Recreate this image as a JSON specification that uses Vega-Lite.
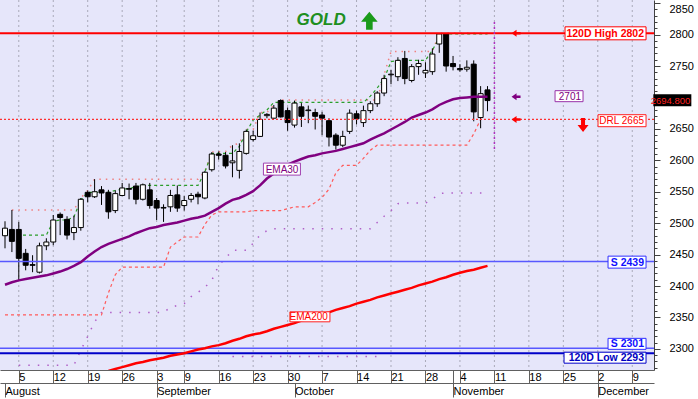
{
"$schema":"https://vega.github.io/schema/vega-lite/v6.json",
"width":654,"height":370,"autosize":{"type":"none"},"padding":{"left":0,"top":0,"right":44,"bottom":29},"background":"white",
"config":{"view":{"stroke":null,"fill":"#E6E6FA"},"font":"Liberation Sans","axis":{"labelFont":"Liberation Sans"}},
"datasets":{
"bars":[{"i":-2,"o":2480,"h":2503,"l":2460,"c":2492},{"i":-1,"o":2490,"h":2521,"l":2454,"c":2471},{"i":0,"o":2490,"h":2502,"l":2409,"c":2444},{"i":1,"o":2452,"h":2459,"l":2425,"c":2433},{"i":2,"o":2434,"h":2449,"l":2422,"c":2433},{"i":3,"o":2422,"h":2469,"l":2420,"c":2464},{"i":4,"o":2464,"h":2476,"l":2457,"c":2470},{"i":5,"o":2470,"h":2513,"l":2465,"c":2505},{"i":6,"o":2514,"h":2517,"l":2481,"c":2509},{"i":7,"o":2506,"h":2511,"l":2474,"c":2481},{"i":8,"o":2485,"h":2512,"l":2473,"c":2493},{"i":9,"o":2493,"h":2540,"l":2488,"c":2538},{"i":10,"o":2549,"h":2552,"l":2533,"c":2542},{"i":11,"o":2542,"h":2570,"l":2540,"c":2550},{"i":12,"o":2553,"h":2559,"l":2529,"c":2548},{"i":13,"o":2549,"h":2553,"l":2507,"c":2518},{"i":14,"o":2520,"h":2552,"l":2516,"c":2547},{"i":15,"o":2544,"h":2564,"l":2543,"c":2556},{"i":16,"o":2555,"h":2563,"l":2538,"c":2554},{"i":17,"o":2559,"h":2564,"l":2530,"c":2538},{"i":18,"o":2538,"h":2563,"l":2536,"c":2561},{"i":19,"o":2553,"h":2564,"l":2523,"c":2528},{"i":20,"o":2536,"h":2540,"l":2505,"c":2524},{"i":21,"o":2524,"h":2530,"l":2502,"c":2525},{"i":22,"o":2526,"h":2553,"l":2518,"c":2544},{"i":23,"o":2545,"h":2560,"l":2518,"c":2524},{"i":24,"o":2528,"h":2543,"l":2520,"c":2536},{"i":25,"o":2538,"h":2548,"l":2533,"c":2544},{"i":26,"o":2546,"h":2550,"l":2530,"c":2542},{"i":27,"o":2540,"h":2583,"l":2538,"c":2581},{"i":28,"o":2585,"h":2613,"l":2582,"c":2610},{"i":29,"o":2610,"h":2614,"l":2601,"c":2608},{"i":30,"o":2608,"h":2613,"l":2587,"c":2591},{"i":31,"o":2596,"h":2624,"l":2573,"c":2599},{"i":32,"o":2584,"h":2627,"l":2571,"c":2614},{"i":33,"o":2611,"h":2649,"l":2609,"c":2646},{"i":34,"o":2633,"h":2647,"l":2630,"c":2639},{"i":35,"o":2638,"h":2676,"l":2637,"c":2665},{"i":36,"o":2671,"h":2675,"l":2667,"c":2673},{"i":37,"o":2667,"h":2688,"l":2666,"c":2683},{"i":38,"o":2695,"h":2697,"l":2668,"c":2669},{"i":39,"o":2679,"h":2684,"l":2647,"c":2660},{"i":40,"o":2656,"h":2695,"l":2652,"c":2691},{"i":41,"o":2685,"h":2691,"l":2653,"c":2670},{"i":42,"o":2679,"h":2687,"l":2659,"c":2680},{"i":43,"o":2676,"h":2682,"l":2649,"c":2670},{"i":44,"o":2672,"h":2677,"l":2640,"c":2667},{"i":45,"o":2663,"h":2667,"l":2622,"c":2637},{"i":46,"o":2640,"h":2643,"l":2617,"c":2624},{"i":47,"o":2624,"h":2647,"l":2621,"c":2638},{"i":48,"o":2646,"h":2681,"l":2642,"c":2675},{"i":49,"o":2674,"h":2679,"l":2657,"c":2666},{"i":50,"o":2660,"h":2687,"l":2653,"c":2679},{"i":51,"o":2679,"h":2694,"l":2675,"c":2690},{"i":52,"o":2690,"h":2710,"l":2685,"c":2707},{"i":53,"o":2707,"h":2736,"l":2702,"c":2730},{"i":54,"o":2736,"h":2744,"l":2721,"c":2737},{"i":55,"o":2733,"h":2764,"l":2726,"c":2759},{"i":56,"o":2762,"h":2774,"l":2721,"c":2730},{"i":57,"o":2727,"h":2753,"l":2724,"c":2749},{"i":58,"o":2749,"h":2760,"l":2736,"c":2754},{"i":59,"o":2739,"h":2756,"l":2731,"c":2743},{"i":60,"o":2741,"h":2778,"l":2736,"c":2769},{"i":61,"o":2785,"h":2802,"l":2771,"c":2801},{"i":62,"o":2801,"h":2802,"l":2741,"c":2750},{"i":63,"o":2754,"h":2766,"l":2743,"c":2749},{"i":64,"o":2746,"h":2753,"l":2741,"c":2744},{"i":65,"o":2745,"h":2759,"l":2741,"c":2748},{"i":66,"o":2753,"h":2759,"l":2662,"c":2677},{"i":67,"o":2668,"h":2718,"l":2651,"c":2706},{"i":68,"o":2712,"h":2718,"l":2678,"c":2695}],
"ema30":[{"i":-2,"v":2402},{"i":-1,"v":2406},{"i":0,"v":2409},{"i":1,"v":2411},{"i":2,"v":2413},{"i":3,"v":2415},{"i":4,"v":2417},{"i":5,"v":2420},{"i":6,"v":2423},{"i":7,"v":2427},{"i":8,"v":2432},{"i":9,"v":2438},{"i":10,"v":2447},{"i":11,"v":2455},{"i":12,"v":2462},{"i":13,"v":2467},{"i":14,"v":2471},{"i":15,"v":2475},{"i":16,"v":2479},{"i":17,"v":2484},{"i":18,"v":2488},{"i":19,"v":2492},{"i":20,"v":2494},{"i":21,"v":2497},{"i":22,"v":2499},{"i":23,"v":2501},{"i":24,"v":2504},{"i":25,"v":2507},{"i":26,"v":2509},{"i":27,"v":2512},{"i":28,"v":2518},{"i":29,"v":2524},{"i":30,"v":2531},{"i":31,"v":2537},{"i":32,"v":2540},{"i":33,"v":2545},{"i":34,"v":2551},{"i":35,"v":2560},{"i":36,"v":2571},{"i":37,"v":2579},{"i":38,"v":2587},{"i":39,"v":2593},{"i":40,"v":2598},{"i":41,"v":2602},{"i":42,"v":2606},{"i":43,"v":2608},{"i":44,"v":2611},{"i":45,"v":2613},{"i":46,"v":2615},{"i":47,"v":2618},{"i":48,"v":2621},{"i":49,"v":2624},{"i":50,"v":2627},{"i":51,"v":2633},{"i":52,"v":2638},{"i":53,"v":2643},{"i":54,"v":2649},{"i":55,"v":2655},{"i":56,"v":2661},{"i":57,"v":2668},{"i":58,"v":2672},{"i":59,"v":2676},{"i":60,"v":2681},{"i":61,"v":2688},{"i":62,"v":2693},{"i":63,"v":2697},{"i":64,"v":2699},{"i":65,"v":2700},{"i":66,"v":2701},{"i":67,"v":2701},{"i":68,"v":2701}],
"ema200":[{"i":13,"v":2265},{"i":14,"v":2268},{"i":15,"v":2271},{"i":16,"v":2274},{"i":17,"v":2277},{"i":18,"v":2279},{"i":19,"v":2282},{"i":20,"v":2284},{"i":21,"v":2286},{"i":22,"v":2289},{"i":23,"v":2291},{"i":24,"v":2293},{"i":25,"v":2296},{"i":26,"v":2299},{"i":27,"v":2301},{"i":28,"v":2304},{"i":29,"v":2306},{"i":30,"v":2309},{"i":31,"v":2313},{"i":32,"v":2316},{"i":33,"v":2320},{"i":34,"v":2323},{"i":35,"v":2325},{"i":36,"v":2328},{"i":37,"v":2332},{"i":38,"v":2335},{"i":39,"v":2338},{"i":40,"v":2341},{"i":41,"v":2345},{"i":42,"v":2348},{"i":43,"v":2351},{"i":44,"v":2355},{"i":45,"v":2358},{"i":46,"v":2362},{"i":47,"v":2365},{"i":48,"v":2368},{"i":49,"v":2372},{"i":50,"v":2375},{"i":51,"v":2378},{"i":52,"v":2382},{"i":53,"v":2385},{"i":54,"v":2388},{"i":55,"v":2391},{"i":56,"v":2394},{"i":57,"v":2397},{"i":58,"v":2401},{"i":59,"v":2404},{"i":60,"v":2407},{"i":61,"v":2411},{"i":62,"v":2414},{"i":63,"v":2418},{"i":64,"v":2421},{"i":65,"v":2424},{"i":66,"v":2426},{"i":67,"v":2429},{"i":68,"v":2432}],
"res":[{"i":-2,"v":2481},{"i":4,"v":2481},{"i":5,"v":2503},{"i":6,"v":2505},{"i":7,"v":2505},{"i":8,"v":2510},{"i":9,"v":2537},{"i":10,"v":2549},{"i":13,"v":2549},{"i":14,"v":2552},{"i":15,"v":2554},{"i":16,"v":2555},{"i":17,"v":2558},{"i":18,"v":2560},{"i":26,"v":2560},{"i":27,"v":2582},{"i":28,"v":2611},{"i":31,"v":2611},{"i":32,"v":2622},{"i":33,"v":2645},{"i":34,"v":2664},{"i":35,"v":2672},{"i":36,"v":2680},{"i":37,"v":2692},{"i":50,"v":2692},{"i":51,"v":2702},{"i":52,"v":2715},{"i":53,"v":2730},{"i":54,"v":2757},{"i":55,"v":2759},{"i":59,"v":2759},{"i":60,"v":2775},{"i":61,"v":2795},{"i":62,"v":2801},{"i":68,"v":2801}],
"trail":[{"i":-2,"v":2354},{"i":12,"v":2354},{"i":13,"v":2389},{"i":14,"v":2418},{"i":15,"v":2430},{"i":21,"v":2430},{"i":22,"v":2462},{"i":23,"v":2470},{"i":24,"v":2478},{"i":26,"v":2478},{"i":27,"v":2498},{"i":28,"v":2513},{"i":29,"v":2518},{"i":33,"v":2518},{"i":34,"v":2520},{"i":38,"v":2520},{"i":39,"v":2523},{"i":40,"v":2526},{"i":42,"v":2526},{"i":43,"v":2533},{"i":44,"v":2541},{"i":45,"v":2554},{"i":46,"v":2580},{"i":47,"v":2592},{"i":49,"v":2592},{"i":50,"v":2603},{"i":51,"v":2616},{"i":52,"v":2624},{"i":65,"v":2624},{"i":66,"v":2642},{"i":67,"v":2665}],
"hh":[{"i":-1,"v":2521},{"i":8,"v":2521},{"i":9,"v":2540},{"i":10,"v":2552},{"i":11,"v":2570},{"i":26,"v":2570},{"i":27,"v":2582},{"i":28,"v":2613},{"i":30,"v":2614},{"i":31,"v":2624},{"i":32,"v":2627},{"i":33,"v":2649},{"i":34,"v":2649},{"i":35,"v":2676},{"i":36,"v":2676},{"i":37,"v":2688},{"i":38,"v":2696},{"i":52,"v":2696},{"i":53,"v":2736},{"i":54,"v":2773},{"i":60,"v":2773},{"i":61,"v":2802},{"i":68,"v":2802}],
"pu":[{"i":0,"v":2274},{"i":8,"v":2274},{"i":9,"v":2298},{"i":10,"v":2320},{"i":11,"v":2343},{"i":12,"v":2358},{"i":21,"v":2358},{"i":22,"v":2366},{"i":23,"v":2369},{"i":24,"v":2372},{"i":25,"v":2383},{"i":26,"v":2390},{"i":27,"v":2398},{"i":28,"v":2409},{"i":29,"v":2433},{"i":30,"v":2444},{"i":31,"v":2457},{"i":33,"v":2457},{"i":34,"v":2468},{"i":35,"v":2481},{"i":36,"v":2488},{"i":37,"v":2491},{"i":51,"v":2491},{"i":52,"v":2501},{"i":53,"v":2511},{"i":54,"v":2520},{"i":55,"v":2531},{"i":56,"v":2532},{"i":59,"v":2532},{"i":60,"v":2538},{"i":61,"v":2547},{"i":62,"v":2548},{"i":68,"v":2548}],
"pl":[{"i":31,"v":2288},{"i":53,"v":2288}],
"weeks":[{"i":0},{"i":5},{"i":10},{"i":15},{"i":20},{"i":24},{"i":29},{"i":34},{"i":39},{"i":44},{"i":49},{"i":54},{"i":59},{"i":64},{"i":69},{"i":74},{"i":79},{"i":84},{"i":89}],
"months":[{"i":-2,"m":"August"},{"i":20,"m":"September"},{"i":40,"m":"October"},{"i":63,"m":"November"},{"i":84,"m":"December"}],
"levels":[{"n":"high","v":2802},{"n":"drl","v":2665},{"n":"s1","v":2439},{"n":"s2","v":2301},{"n":"low","v":2293}],
"boxes":[{"t":"120D High 2802","i":91,"v":2802},{"t":"DRL 2665","i":91,"v":2663},{"t":"S 2439","i":91,"v":2438},{"t":"S 2301","i":91,"v":2308},{"t":"120D Low 2293","i":91,"v":2286},{"t":"2701","i":81.86,"v":2702},{"t":"EMA30","i":40.86,"v":2586},{"t":"EMA200","i":45.14,"v":2351}],
"last":[{"t":"2694.800","i":97.57,"v":2695.6}],
"larrows":[{"k":"r","i":72.14,"v":2802},{"k":"p","i":72.14,"v":2701},{"k":"r","i":72.14,"v":2665}],
"marker":[{"i":69,"top":2820,"bot":2616}],
"gold":[{"t":"GOLD","i":43.86,"v":2823}],
"up":[{"i":50.86,"v":2822}],
"down":[{"i":81.86,"v":2656}]
},
"resolve":{"axis":{"x":"independent","y":"independent"}},
"layer":[
{"layer":[
 {"data":{"name":"weeks"},"mark":{"type":"rule","color":"#a9a9b9","strokeDash":[2,3],"strokeWidth":1},
  "encoding":{"x":{"field":"i","type":"quantitative","axis":null,"scale":{"domain":[-2,91.4286],"nice":false,"zero":false}}}},
 {"data":{"name":"pl"},"mark":{"type":"line","color":"#b060c8","strokeDash":[1.5,8],"strokeWidth":1.5,"clip":true},
  "encoding":{"x":{"field":"i","type":"quantitative","axis":null,"scale":{"domain":[-2,91.4286],"nice":false,"zero":false}},"y":{"field":"v","type":"quantitative","axis":null,"scale":{"domain":[2266.4,2855],"nice":false,"zero":false}}}},
 {"data":{"name":"pu"},"mark":{"type":"line","color":"#b060c8","strokeDash":[1.5,8],"strokeWidth":1.5,"clip":true},
  "encoding":{"x":{"field":"i","type":"quantitative","axis":null,"scale":{"domain":[-2,91.4286],"nice":false,"zero":false}},"y":{"field":"v","type":"quantitative","axis":null,"scale":{"domain":[2266.4,2855],"nice":false,"zero":false}}}},
 {"data":{"name":"hh"},"mark":{"type":"line","color":"#f08080","strokeDash":[1.5,5],"strokeWidth":1.5,"clip":true},
  "encoding":{"x":{"field":"i","type":"quantitative","axis":null,"scale":{"domain":[-2,91.4286],"nice":false,"zero":false}},"y":{"field":"v","type":"quantitative","axis":null,"scale":{"domain":[2266.4,2855],"nice":false,"zero":false}}}},
 {"data":{"name":"trail"},"mark":{"type":"line","color":"#ff5a5a","strokeDash":[3,3],"strokeWidth":1.2,"clip":true},
  "encoding":{"x":{"field":"i","type":"quantitative","axis":null,"scale":{"domain":[-2,91.4286],"nice":false,"zero":false}},"y":{"field":"v","type":"quantitative","axis":null,"scale":{"domain":[2266.4,2855],"nice":false,"zero":false}}}},
 {"data":{"name":"res"},"mark":{"type":"line","color":"#2a9d2a","strokeDash":[3,3],"strokeWidth":1.2,"clip":true},
  "encoding":{"x":{"field":"i","type":"quantitative","axis":null,"scale":{"domain":[-2,91.4286],"nice":false,"zero":false}},"y":{"field":"v","type":"quantitative","axis":null,"scale":{"domain":[2266.4,2855],"nice":false,"zero":false}}}},
 {"data":{"name":"bars"},"mark":{"type":"rule","color":"#000","strokeWidth":1,"clip":true},
  "encoding":{"x":{"field":"i","type":"quantitative","axis":null,"scale":{"domain":[-2,91.4286],"nice":false,"zero":false}},"y":{"field":"l","type":"quantitative","axis":null,"scale":{"domain":[2266.4,2855],"nice":false,"zero":false}},"y2":{"field":"h"}}},
 {"data":{"name":"bars"},"mark":{"type":"bar","width":5,"stroke":"#000","strokeWidth":1,"clip":true},
  "encoding":{"x":{"field":"i","type":"quantitative","axis":null,"scale":{"domain":[-2,91.4286],"nice":false,"zero":false}},"y":{"field":"o","type":"quantitative","axis":null,"scale":{"domain":[2266.4,2855],"nice":false,"zero":false}},"y2":{"field":"c"},
   "fill":{"condition":{"test":"datum.c < datum.o","value":"#000000"},"value":"#ffffff"}}},
 {"data":{"name":"levels"},"transform":[{"filter":"datum.n == 'drl'"}],"mark":{"type":"rule","color":"#ff3030","strokeDash":[2,2],"strokeWidth":1.3},
  "encoding":{"y":{"field":"v","type":"quantitative","axis":null,"scale":{"domain":[2266.4,2855],"nice":false,"zero":false}}}},
 {"data":{"name":"levels"},"transform":[{"filter":"datum.n == 'high'"}],"mark":{"type":"rule","color":"#ff0000","strokeWidth":2},
  "encoding":{"y":{"field":"v","type":"quantitative","axis":null,"scale":{"domain":[2266.4,2855],"nice":false,"zero":false}}}},
 {"data":{"name":"levels"},"transform":[{"filter":"datum.n == 's1' || datum.n == 's2'"}],"mark":{"type":"rule","color":"#5858ff","strokeWidth":1.6},
  "encoding":{"y":{"field":"v","type":"quantitative","axis":null,"scale":{"domain":[2266.4,2855],"nice":false,"zero":false}}}},
 {"data":{"name":"levels"},"transform":[{"filter":"datum.n == 'low'"}],"mark":{"type":"rule","color":"#0000c8","strokeWidth":2},
  "encoding":{"y":{"field":"v","type":"quantitative","axis":null,"scale":{"domain":[2266.4,2855],"nice":false,"zero":false}}}},
 {"data":{"name":"ema200"},"mark":{"type":"line","color":"#ff0000","strokeWidth":2.5,"clip":true},
  "encoding":{"x":{"field":"i","type":"quantitative","axis":null,"scale":{"domain":[-2,91.4286],"nice":false,"zero":false}},"y":{"field":"v","type":"quantitative","axis":null,"scale":{"domain":[2266.4,2855],"nice":false,"zero":false}}}},
 {"data":{"name":"ema30"},"mark":{"type":"line","color":"#800080","strokeWidth":2.5,"clip":true},
  "encoding":{"x":{"field":"i","type":"quantitative","axis":null,"scale":{"domain":[-2,91.4286],"nice":false,"zero":false}},"y":{"field":"v","type":"quantitative","axis":null,"scale":{"domain":[2266.4,2855],"nice":false,"zero":false}}}},
 {"data":{"name":"marker"},"mark":{"type":"rule","color":"#b030c0","strokeDash":[2,3],"strokeWidth":1.5},
  "encoding":{"x":{"field":"i","type":"quantitative","axis":null,"scale":{"domain":[-2,91.4286],"nice":false,"zero":false}},"y":{"field":"top","type":"quantitative","axis":null,"scale":{"domain":[2266.4,2855],"nice":false,"zero":false}},"y2":{"field":"bot"}}},
 {"data":{"name":"boxes"},"mark":{"type":"point","filled":true,"fill":"#ffffff","size":4,"strokeWidth":1,"opacity":1},
  "encoding":{"x":{"field":"i","type":"quantitative","axis":null,"scale":{"domain":[-2,91.4286],"nice":false,"zero":false}},"y":{"field":"v","type":"quantitative","axis":null,"scale":{"domain":[2266.4,2855],"nice":false,"zero":false}},
   "shape":{"field":"t","type":"nominal","legend":null,"scale":{"domain":["120D High 2802","DRL 2665","S 2439","S 2301","120D Low 2293","2701","EMA30","EMA200"],"range":["M-81,-6.5H0V6.5H-81Z","M-48,-6H0V6H-48Z","M-38,-6H0V6H-38Z","M-38,-5.5H0V5.5H-38Z","M-82,-5.5H0V5.5H-82Z","M-28,-5.5H0V5.5H-28Z","M-37,-6H0V6H-37Z","M-40,-5H0V5H-40Z"]}},
   "stroke":{"field":"t","type":"nominal","legend":null,"scale":{"domain":["120D High 2802","DRL 2665","S 2439","S 2301","120D Low 2293","2701","EMA30","EMA200"],"range":["#ff0000","#ff2020","#3030ff","#3030ff","#0000c8","#9932a8","#a040b0","#ff2020"]}}}},
 {"data":{"name":"boxes"},"transform":[{"filter":{"field":"t","oneOf":["120D High 2802","S 2439","S 2301","120D Low 2293"]}}],"mark":{"type":"text","align":"right","baseline":"middle","dx":-2,"dy":0.5,"fontSize":10.5,"fontWeight":"bold","font":"Liberation Sans"},
  "encoding":{"x":{"field":"i","type":"quantitative","axis":null,"scale":{"domain":[-2,91.4286],"nice":false,"zero":false}},"y":{"field":"v","type":"quantitative","axis":null,"scale":{"domain":[2266.4,2855],"nice":false,"zero":false}},"text":{"field":"t"},
   "color":{"field":"t","type":"nominal","legend":null,"scale":{"domain":["120D High 2802","DRL 2665","S 2439","S 2301","120D Low 2293","2701","EMA30","EMA200"],"range":["#ff0000","#ff0000","#1010ff","#1010ff","#0000c0","#800080","#800080","#ff0000"]}}}},
 {"data":{"name":"boxes"},"transform":[{"filter":{"field":"t","oneOf":["DRL 2665","2701","EMA30","EMA200"]}}],"mark":{"type":"text","align":"right","baseline":"middle","dx":-2,"dy":0.5,"fontSize":10,"font":"Liberation Sans"},
  "encoding":{"x":{"field":"i","type":"quantitative","axis":null,"scale":{"domain":[-2,91.4286],"nice":false,"zero":false}},"y":{"field":"v","type":"quantitative","axis":null,"scale":{"domain":[2266.4,2855],"nice":false,"zero":false}},"text":{"field":"t"},
   "color":{"field":"t","type":"nominal","legend":null,"scale":{"domain":["120D High 2802","DRL 2665","S 2439","S 2301","120D Low 2293","2701","EMA30","EMA200"],"range":["#ff0000","#ff0000","#1010ff","#1010ff","#0000c0","#800080","#800080","#ff0000"]}}}},
 {"data":{"name":"larrows"},"transform":[{"filter":"datum.k == 'r'"}],"mark":{"type":"point","filled":true,"color":"#ff0000","size":4,"opacity":1,"shape":"M-4.5,0L0.5,-3.5V-1.2H4.5V1.2H0.5V3.5Z"},
  "encoding":{"x":{"field":"i","type":"quantitative","axis":null,"scale":{"domain":[-2,91.4286],"nice":false,"zero":false}},"y":{"field":"v","type":"quantitative","axis":null,"scale":{"domain":[2266.4,2855],"nice":false,"zero":false}}}},
 {"data":{"name":"larrows"},"transform":[{"filter":"datum.k == 'p'"}],"mark":{"type":"point","filled":true,"color":"#800080","size":4,"opacity":1,"shape":"M-4.5,0L0.5,-3.5V-1.2H4.5V1.2H0.5V3.5Z"},
  "encoding":{"x":{"field":"i","type":"quantitative","axis":null,"scale":{"domain":[-2,91.4286],"nice":false,"zero":false}},"y":{"field":"v","type":"quantitative","axis":null,"scale":{"domain":[2266.4,2855],"nice":false,"zero":false}}}},
 {"data":{"name":"down"},"mark":{"type":"point","filled":true,"color":"#ff0000","size":4,"opacity":1,"shape":"M-2,-7H2V0H5.5L0,7L-5.5,0H-2Z"},
  "encoding":{"x":{"field":"i","type":"quantitative","axis":null,"scale":{"domain":[-2,91.4286],"nice":false,"zero":false}},"y":{"field":"v","type":"quantitative","axis":null,"scale":{"domain":[2266.4,2855],"nice":false,"zero":false}}}},
 {"data":{"name":"up"},"mark":{"type":"point","filled":true,"color":"#1a9a1a","size":4,"opacity":1,"shape":"M0,-9L8.3,1H3.3V9H-3.3V1H-8.3Z"},
  "encoding":{"x":{"field":"i","type":"quantitative","axis":null,"scale":{"domain":[-2,91.4286],"nice":false,"zero":false}},"y":{"field":"v","type":"quantitative","axis":null,"scale":{"domain":[2266.4,2855],"nice":false,"zero":false}}}},
 {"data":{"name":"gold"},"mark":{"type":"text","align":"center","baseline":"middle","fontSize":17,"fontWeight":"bold","fontStyle":"italic","color":"#1f8f1f","font":"Liberation Sans"},
  "encoding":{"x":{"field":"i","type":"quantitative","axis":null,"scale":{"domain":[-2,91.4286],"nice":false,"zero":false}},"y":{"field":"v","type":"quantitative","axis":null,"scale":{"domain":[2266.4,2855],"nice":false,"zero":false}},"text":{"field":"t"}}}
]},
{"data":{"name":"weeks"},"mark":{"type":"point","opacity":0},
 "encoding":{"x":{"field":"i","type":"quantitative","title":null,"scale":{"domain":[-2,91.4286],"nice":false,"zero":false},
  "axis":{"orient":"bottom","values":[0,5,10,15,20,24,29,34,39,44,49,54,59,63,64,69,74,79,84,89],
   "labelExpr":"['5','12','19','26','3','9','16','23','30','7','14','21','28','','4','11','18','25','2','9'][indexof([0,5,10,15,20,24,29,34,39,44,49,54,59,63,64,69,74,79,84,89], datum.value)]",
   "grid":false,"tickSize":13,"tickColor":"#606060","domainColor":"#606060","labelAlign":"left","labelBaseline":"middle","labelPadding":-6,"labelDx":2,"labelFontSize":11,"labelColor":"#000","labelFlush":false,"labelOverlap":false,"labelBound":false,"title":null}}}},
{"data":{"name":"months"},"mark":{"type":"point","opacity":0},
 "encoding":{"x":{"field":"i","type":"quantitative","title":null,"scale":{"domain":[-2,91.4286],"nice":false,"zero":false},
  "axis":{"orient":"bottom","offset":13,"values":[-2,20,40,63,84],"labelExpr":"['August','September','October','November','December'][indexof([-2,20,40,63,84], datum.value)]","grid":false,"tickSize":14,"tickColor":"#606060","domainColor":"#606060","labelAlign":"left","labelBaseline":"middle","labelPadding":-6,"labelDx":2,"labelFontSize":11,"labelColor":"#000","labelFlush":false,"labelOverlap":false,"labelBound":false,"title":null}}}},
{"data":{"name":"levels"},"mark":{"type":"point","opacity":0},
 "encoding":{"y":{"field":"v","type":"quantitative","title":null,"scale":{"domain":[2266.4,2855],"nice":false,"zero":false},
  "axis":{"orient":"right","values":[2300,2350,2400,2450,2500,2550,2600,2650,2700,2750,2800,2850],"labelExpr":"datum.value == 2700 ? '' : format(datum.value, 'd')","tickSize":6,"labelPadding":9,"labelFontSize":11,"labelColor":"#000","domainColor":"#404040","tickColor":"#404040","grid":false,"labelAlign":"left","labelFlush":5,"labelOverlap":false,"labelBound":false,"title":null}}}},
{"data":{"name":"levels"},"mark":{"type":"point","opacity":0},
 "encoding":{"y":{"field":"v","type":"quantitative","title":null,"scale":{"domain":[2266.4,2855],"nice":false,"zero":false},
  "axis":{"orient":"right","values":[2270,2280,2290,2300,2310,2320,2330,2340,2350,2360,2370,2380,2390,2400,2410,2420,2430,2440,2450,2460,2470,2480,2490,2500,2510,2520,2530,2540,2550,2560,2570,2580,2590,2600,2610,2620,2630,2640,2650,2660,2670,2680,2690,2700,2710,2720,2730,2740,2750,2760,2770,2780,2790,2800,2810,2820,2830,2840,2850],"tickSize":3,"labels":false,"domain":false,"grid":false,"tickColor":"#404040","title":null}}}},
{"layer":[
 {"data":{"name":"last"},"mark":{"type":"point","filled":true,"fill":"#000000","size":4,"opacity":1,"shape":"M-38,-6H0V6H-38Z"},
  "encoding":{"x":{"field":"i","type":"quantitative","axis":null,"scale":{"domain":[-2,91.4286],"nice":false,"zero":false}},"y":{"field":"v","type":"quantitative","axis":null,"scale":{"domain":[2266.4,2855],"nice":false,"zero":false}}}},
 {"data":{"name":"last"},"mark":{"type":"text","align":"right","baseline":"middle","dx":-1,"dy":0.5,"fontSize":9.5,"color":"#ff2020","font":"Liberation Sans"},
  "encoding":{"x":{"field":"i","type":"quantitative","axis":null,"scale":{"domain":[-2,91.4286],"nice":false,"zero":false}},"y":{"field":"v","type":"quantitative","axis":null,"scale":{"domain":[2266.4,2855],"nice":false,"zero":false}},"text":{"field":"t"}}}
]}
]
}
